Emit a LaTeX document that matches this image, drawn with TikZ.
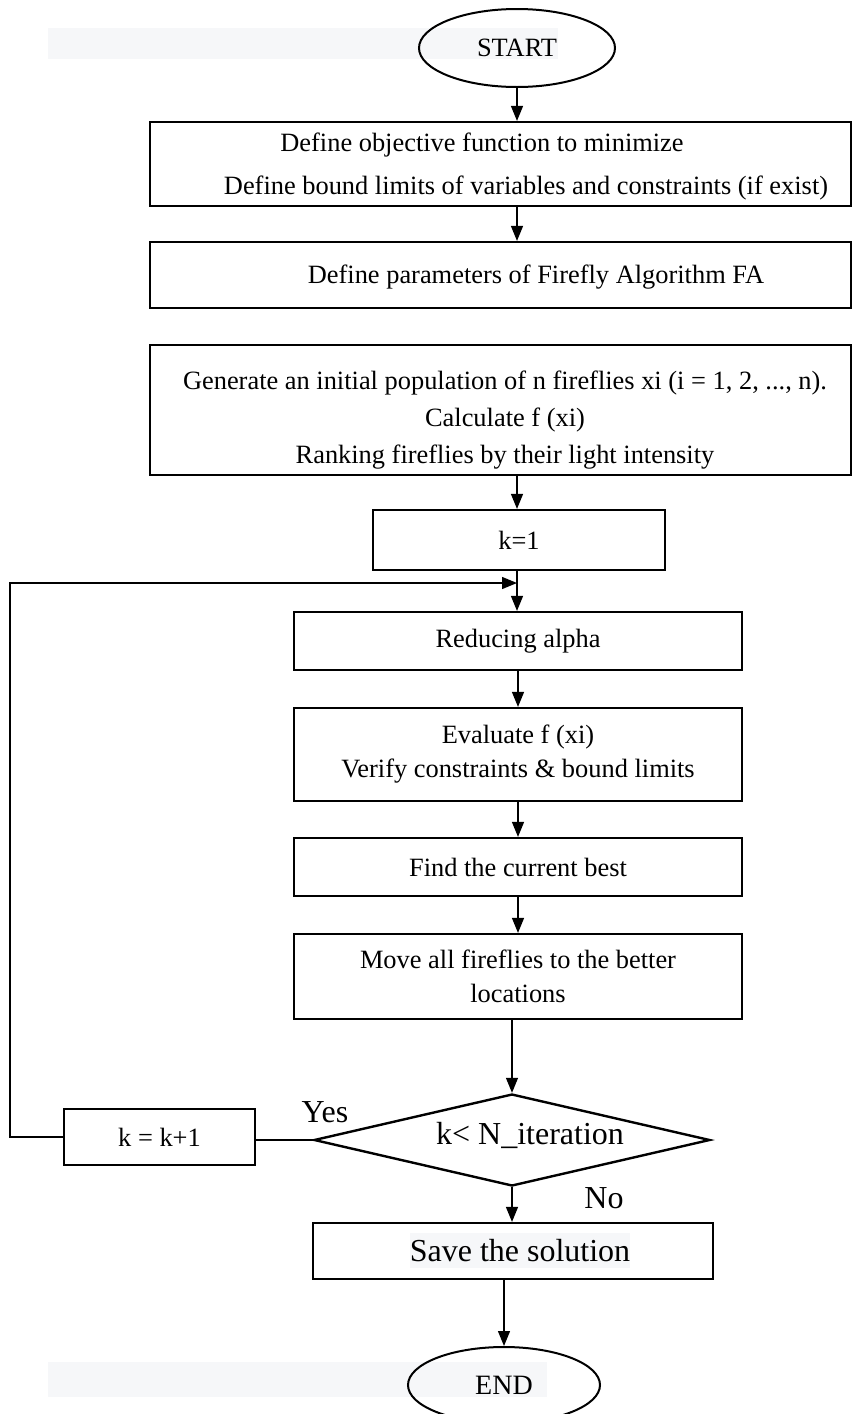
\documentclass[tikz,border=0pt]{standalone}
\usepackage{fontspec}
\setmainfont{Liberation Serif}
\usetikzlibrary{shapes.geometric,arrows.meta}
\definecolor{hl}{RGB}{246,247,249}
\begin{document}
\begin{tikzpicture}[x=1pt,y=-1pt,
  box/.style={draw,line width=2.2pt,rectangle,inner sep=0pt,font=\fontsize{26.4}{34}\selectfont,align=center},
  txt/.style={inner sep=0pt,font=\fontsize{26.4}{34}\selectfont,align=center},
  big/.style={inner sep=0pt,font=\fontsize{32}{38}\selectfont},
  arr/.style={line width=1.3pt,-{Triangle[width=12pt,length=15pt]}},
  ln/.style={line width=1.3pt}]
\useasboundingbox (0,0) rectangle (861,1414);

% START
\fill[hl] (48,28) rectangle (558,59);
\node[draw,ellipse,line width=2pt,minimum width=196pt,minimum height=78pt,inner sep=0pt,font=\fontsize{26.4}{30}\selectfont] (st) at (517,48) {START};

% box 1
\node[box,minimum width=701pt,minimum height=84pt] (b1) at (500.5,164) {};
\node[txt] (b1a) at (482,145) {Define objective function to minimize};
\node[txt] (b1b) at (526,188) {Define bound limits of variables and constraints (if exist)};

% box 2
\node[box,minimum width=701pt,minimum height=66pt] (b2) at (500.5,275) {};
\node[txt] (b2t) at (536,277) {Define parameters of Firefly Algorithm FA};

% box 3
\node[box,minimum width=701pt,minimum height=130pt] (b3) at (500.5,410) {};
\node[txt,font=\fontsize{26.4}{37}\selectfont] (b3t) at (505,420) {Generate an initial population of n fireflies xi (i = 1, 2, ..., n).\\Calculate f (xi)\\Ranking fireflies by their light intensity};

\node[box,minimum width=292pt,minimum height=60pt] (k1) at (519,540) {k=1};
\node[box,minimum width=448pt,minimum height=58pt] (red) at (518,641) {Reducing alpha};
\node[box,minimum width=448pt,minimum height=93pt] (ev) at (518,754.5) {Evaluate f (xi)\\Verify constraints \& bound limits};
\node[box,minimum width=448pt,minimum height=58pt] (fd) at (518,867) {Find the current best};
\node[box,minimum width=448pt,minimum height=85pt] (mv) at (518,976.5) {Move all fireflies to the better\\locations};

% decision
\node[draw,diamond,line width=2.4pt,minimum width=396pt,minimum height=92pt,inner sep=0pt,shape aspect=4.3] (dec) at (512,1140) {};
\node[big] (dect) at (530,1135) {k< N\_iteration};
\node[box,minimum width=191pt,minimum height=56pt] (kk) at (159.5,1137) {k = k+1};
\node[big] (yes) at (325,1112) {Yes};
\node[big] (no) at (604,1198) {No};

% save
\node[box,minimum width=400pt,minimum height=56pt] (sv) at (513,1251) {};
\fill[hl] (410,1233) rectangle (630,1268);
\node[big] (svt) at (520,1251) {Save the solution};

% END
\fill[hl] (48,1362) rectangle (547,1397);
\node[draw,ellipse,line width=2pt,minimum width=192pt,minimum height=76pt,inner sep=0pt,font=\fontsize{28}{30}\selectfont] (en) at (504,1385) {END};

% connectors
\draw[arr] (st.south) -- (st.south |- b1.north);
\draw[arr] (b1.south -| st.south) -- (b2.north -| st.south);
\draw[arr] (b3.south -| st.south) -- (k1.north -| st.south);
\draw[arr] (k1.south -| st.south) -- (red.north -| st.south);
\coordinate (loopin) at (517,583);
\draw[arr] (kk.west) -- ++(-53,0) |- (loopin);
\draw[arr] (red.south) -- (red.south |- ev.north);
\draw[arr] (ev.south) -- (ev.south |- fd.north);
\draw[arr] (fd.south) -- (fd.south |- mv.north);
\draw[arr] (mv.south -| dec.north) -- (dec.north);
\draw[arr] (dec.south) -- (dec.south |- sv.north);
\draw[ln] (dec.west) -- (dec.west -| kk.east);
\draw[arr] (sv.south -| en.north) -- (en.north);
\end{tikzpicture}
\end{document}
